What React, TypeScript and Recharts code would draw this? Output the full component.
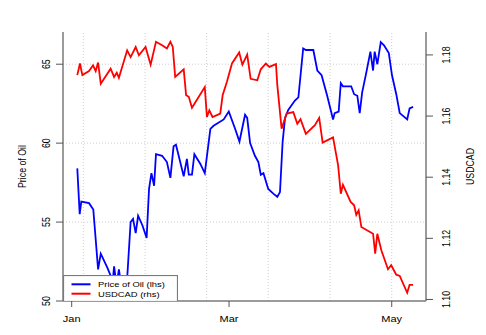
import { LineChart, Line, XAxis, YAxis, ReferenceLine, Legend, Label } from 'recharts';

// x values are days counted from Jan 1 2007
const monthTicks = [0, 59, 120];
const monthNames = ['Jan', 'Mar', 'May'];

const oilTicks = [50, 55, 60, 65];
const cadTicks = [1.1, 1.12, 1.14, 1.16, 1.18];

// dotted grid in the plot
const gridDays = [4.35, 27.5, 50.6, 73.7, 96.9, 120];
const gridOil = [55, 60, 65];

const oilDays = [
  2.1, 3.0, 3.6, 6.5, 8.1, 9.9, 10.9, 13.4, 14.6, 15.2, 15.9, 16.8, 17.7, 19.0, 20.0, 20.9,
  22.1, 23.0, 24.0, 24.9, 26.5, 28.1, 29.0, 29.9, 30.9, 31.6, 33.9, 35.7, 37.0, 38.2, 39.1,
  42.0, 43.2, 43.9, 45.1, 46.0, 48.2, 49.9, 52.0, 53.2, 57.0, 58.9, 61.3, 62.9, 65.0, 65.8,
  66.9, 68.7, 70.0, 70.9, 71.9, 73.7, 75.6, 77.1, 78.1, 79.1, 80.0, 81.2, 83.7, 85.0, 86.8,
  87.8, 90.6, 92.1, 93.7, 95.8, 98.0, 98.6, 100.1, 100.9, 101.7, 104.8, 105.9, 107.1, 108.0,
  108.9, 110.5, 112.0, 113.0, 113.6, 114.6, 115.9, 117.1, 118.9, 120.1, 121.7, 123.0, 125.8,
  126.7, 128.0,
];
const oilPrices = [
  58.4, 55.5, 56.3, 56.2, 55.8, 52.0, 53.0, 52.1, 51.6, 50.9, 52.2, 51.0, 52.0, 50.5, 51.2, 51.7,
  55.0, 55.2, 54.3, 55.4, 54.8, 54.0, 57.1, 58.1, 57.3, 59.3, 59.2, 58.8, 57.8, 59.8, 59.9,
  57.9, 59.0, 58.0, 58.0, 59.3, 58.7, 58.1, 60.9, 61.1, 61.5, 62.0, 60.9, 60.1, 61.8, 61.6,
  60.0, 59.2, 58.8, 58.0, 58.1, 57.1, 56.8, 56.6, 56.9, 60.1, 61.6, 62.1, 62.7, 62.9, 66.0,
  65.9, 65.9, 64.6, 64.3, 63.0, 61.5, 61.9, 62.0, 63.8, 63.6, 63.6, 63.1, 63.0, 61.9,
  63.2, 64.5, 65.8, 64.6, 65.8, 65.0, 66.4, 66.2, 65.7, 64.3, 63.1, 61.9, 61.5,
  62.2, 62.3,
];

const cadDays = [
  2.1, 3.1, 4.0, 6.5, 8.0, 9.0, 9.9, 10.9, 14.6, 15.9, 16.9, 17.7, 20.8, 22.1, 24.0, 25.2,
  27.7, 29.6, 31.6, 33.9, 35.7, 37.0, 37.9, 38.8, 42.0, 42.9, 43.9, 45.1, 49.9, 50.7, 51.6,
  52.8, 55.7, 56.6, 58.2, 60.1, 62.8, 64.0, 65.8, 67.1, 69.6, 70.9, 72.8, 74.1, 76.6, 77.1,
  78.7, 80.6, 83.1, 84.6, 85.8, 87.8, 91.2, 92.8, 94.1, 98.0, 99.9, 100.9, 101.7, 104.6,
  105.9, 106.7, 107.6, 108.6, 113.0, 113.8, 114.6, 116.1, 118.6, 119.8, 121.7, 123.0, 125.8,
  126.7, 128.0,
];
const cadRates = [
  1.1734, 1.1772, 1.1734, 1.1747, 1.1766, 1.1747, 1.1775, 1.1706, 1.1755, 1.1728, 1.1742, 1.1725,
  1.1815, 1.1793, 1.1826, 1.1799, 1.1826, 1.1768, 1.1843, 1.1832, 1.1821, 1.1843, 1.1826, 1.1728,
  1.1753, 1.1668, 1.1663, 1.1627, 1.1695, 1.1597, 1.1619, 1.1597, 1.1608, 1.1668, 1.1712, 1.1772,
  1.1808, 1.1768, 1.1801, 1.1722, 1.1717, 1.1753, 1.1772, 1.1761, 1.177, 1.1701, 1.1559, 1.1608,
  1.1613, 1.1575, 1.159, 1.1542, 1.157, 1.1594, 1.1513, 1.153, 1.1439, 1.1346, 1.1375, 1.1319,
  1.1308, 1.1277, 1.1292, 1.1237, 1.1215, 1.115, 1.1215, 1.1161, 1.1099, 1.1112, 1.1081, 1.1077,
  1.1022, 1.1048, 1.1048,
];

const oilData = oilDays.map((d, i) => ({ day: d, oil: oilPrices[i] }));
const cadData = cadDays.map((d, i) => ({ day: d, cad: cadRates[i] }));

const FONT = '"Liberation Sans", Arial, sans-serif';
const BOX = '#7a7a7a';
const GRID = '#cfcfcf';
// the picture is squashed vertically, so text is too
const SQ = 0.8;

const XTick = ({ x, y, payload }: any) => (
  <text transform={`translate(${x},${y + 14.5}) scale(1,${SQ})`} textAnchor="middle" fontSize={11} fill="#000">
    {monthNames[monthTicks.indexOf(payload.value)]}
  </text>
);

const LeftTick = ({ x, y, payload }: any) => (
  <text transform={`translate(${x - 6},${y}) rotate(-90) scale(${SQ},1)`} textAnchor="middle" fontSize={11} fill="#000">
    {payload.value}
  </text>
);

const RightTick = ({ x, y, payload }: any) => (
  <text transform={`translate(${x + 17},${y}) rotate(-90) scale(${SQ},1)`} textAnchor="middle" fontSize={11} fill="#000">
    {Number(payload.value).toFixed(2)}
  </text>
);

const AxisTitle = ({ viewBox, text, dx }: any) => (
  <text
    transform={`translate(${viewBox.x + dx},${viewBox.y + viewBox.height / 2}) rotate(-90) scale(${SQ},1)`}
    textAnchor="middle"
    fontSize={11}
    fill="#000"
  >
    {text}
  </text>
);

const Title = () => (
  <text transform={`translate(244,15) scale(1,${SQ})`} textAnchor="middle" fontSize={13.2} fontWeight="bold" fill="#000">
    Price of Oil vs. USDCAD through 2007-2007
  </text>
);

const LegendBox = () => (
  <svg width={115} height={26} style={{ display: 'block' }}>
    <rect x={0.5} y={0.5} width={114} height={26} fill="#fff" stroke={BOX} strokeWidth={1.2} />
    <line x1={8.5} x2={27.5} y1={9.3} y2={9.3} stroke="#0000ff" strokeWidth={2} />
    <line x1={8.5} x2={27.5} y1={18.7} y2={18.7} stroke="#ff0000" strokeWidth={2} />
    <text transform={`translate(35,12.2) scale(1,${SQ})`} fontSize={9.4} fill="#000" fontFamily={FONT}>
      Price of Oil (lhs)
    </text>
    <text transform={`translate(35,21.6) scale(1,${SQ})`} fontSize={9.4} fill="#000" fontFamily={FONT}>
      USDCAD (rhs)
    </text>
  </svg>
);

export default function App() {
  const xDomain = [-3.26, 132.85];
  return (
    <div style={{ position: 'absolute', left: 0, top: 0, width: 486, height: 335, background: '#fff', fontFamily: FONT }}>
      <LineChart width={486} height={335} margin={{ top: 32, right: 10, bottom: 4, left: 8 }}>
        <XAxis
          xAxisId="bottom"
          type="number"
          dataKey="day"
          domain={xDomain}
          allowDataOverflow
          ticks={monthTicks}
          tick={<XTick />}
          tickSize={6}
          tickMargin={0}
          height={30}
          axisLine={{ stroke: BOX, strokeWidth: 1.5 }}
          tickLine={{ stroke: '#555' }}
        />
        <XAxis
          xAxisId="top"
          orientation="top"
          type="number"
          dataKey="day"
          domain={xDomain}
          allowDataOverflow
          height={0}
          tick={false}
          tickLine={false}
          axisLine={{ stroke: BOX, strokeWidth: 1.5 }}
        >
          <Label content={() => <Title />} />
        </XAxis>
        <YAxis
          yAxisId="left"
          type="number"
          domain={[50, 67.04]}
          allowDataOverflow
          ticks={oilTicks}
          tick={<LeftTick />}
          tickSize={7}
          tickMargin={0}
          width={55}
          axisLine={{ stroke: BOX, strokeWidth: 1.5 }}
          tickLine={{ stroke: '#555' }}
        >
          <Label content={(p: any) => <AxisTitle {...p} text="Price of Oil" dx={18} />} />
        </YAxis>
        <YAxis
          yAxisId="right"
          orientation="right"
          type="number"
          domain={[1.0995, 1.1875]}
          allowDataOverflow
          ticks={cadTicks}
          tick={<RightTick />}
          tickSize={7}
          tickMargin={0}
          width={50}
          axisLine={{ stroke: BOX, strokeWidth: 1.5 }}
          tickLine={{ stroke: '#555' }}
        >
          <Label content={(p: any) => <AxisTitle {...p} text="USDCAD" dx={48} />} />
        </YAxis>

        {gridDays.map((d) => (
          <ReferenceLine key={'gx' + d} x={d} xAxisId="bottom" yAxisId="left" stroke={GRID} strokeDasharray="1 2" />
        ))}
        {gridOil.map((v) => (
          <ReferenceLine key={'gy' + v} y={v} xAxisId="bottom" yAxisId="left" stroke={GRID} strokeDasharray="1 2" />
        ))}

        <Line
          data={oilData}
          xAxisId="bottom"
          yAxisId="left"
          dataKey="oil"
          type="linear"
          stroke="#0000ff"
          strokeWidth={1.8}
          dot={false}
          isAnimationActive={false}
        />
        <Line
          data={cadData}
          xAxisId="bottom"
          yAxisId="right"
          dataKey="cad"
          type="linear"
          stroke="#ff0000"
          strokeWidth={1.8}
          dot={false}
          isAnimationActive={false}
        />
        <Legend
          layout="horizontal"
          verticalAlign="middle"
          align="center"
          wrapperStyle={{ position: 'absolute', left: 63, top: 275, width: 115, height: 26 }}
          content={() => <LegendBox />}
        />
      </LineChart>
    </div>
  );
}
